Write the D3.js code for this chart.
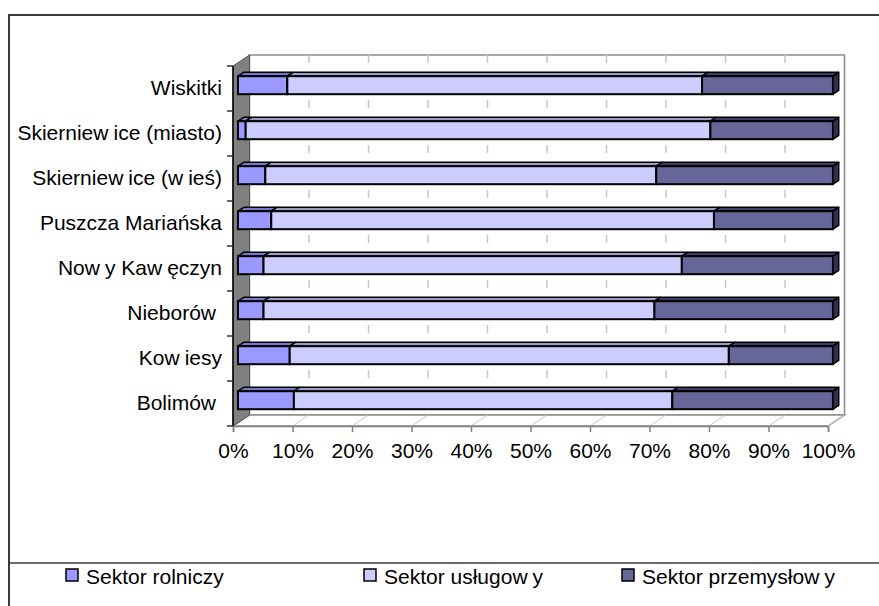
<!DOCTYPE html>
<html><head><meta charset="utf-8">
<script src="https://cdn.jsdelivr.net/npm/d3@7"></script>
<style>html,body{margin:0;padding:0;background:#fff}</style>
</head><body><svg id="c" width="879" height="606"></svg>
<script>
// ---- data ----
const categories = ["Bolimów","Kowiesy","Nieborów","Nowy Kawęczyn","Puszcza Mariańska","Skierniewice (wieś)","Skierniewice (miasto)","Wiskitki"];
const seriesNames = ["Sektor rolniczy","Sektor usługowy","Sektor przemysłowy"];
const rolniczy    = [9.4, 8.7, 4.3, 4.3, 5.6, 4.6, 1.3, 8.3];
const uslugowy    = [63.6, 73.8, 65.7, 70.3, 74.4, 65.7, 78.1, 69.7];
const przemyslowy = [27.0, 17.5, 30.0, 25.4, 20.0, 29.7, 20.6, 22.0];
const tickLabels  = ["0%","10%","20%","30%","40%","50%","60%","70%","80%","90%","100%"];

// ---- styles ----
const fills = ["#9999FF","#CCCCFF","#666699"];
const tops  = ["#7777CC","#9C9CC6","#3D3D6B"];
const sideFill = "#2F2F52";
const FONT = "'Liberation Sans', Arial, sans-serif";
const FS = 21;

const W = 879, H = 606;
const svg = d3.select("#c");

// frame
svg.append("rect").attr("x",9).attr("y",15).attr("width",W).attr("height",H)
  .attr("fill","#fff").attr("stroke","#3a3a3a").attr("stroke-width",2);
svg.append("line").attr("x1",9).attr("x2",W).attr("y1",563).attr("y2",563)
  .attr("stroke","#3a3a3a").attr("stroke-width",1.5);

// geometry
const X0 = 233, X1 = 828, YT = 66, YB = 426, DX = 16.5, DY = -11;
const x = d3.scaleLinear().domain([0,1]).range([X0, X1]);
const y = d3.scaleBand().domain(categories.slice().reverse()).range([YT, YB]);

// back wall
svg.append("rect").attr("x",X0+DX).attr("y",YT+DY).attr("width",X1-X0).attr("height",YB-YT)
  .attr("fill","#fff").attr("stroke","#8c8c8c").attr("stroke-width",1.5);
// floor
svg.append("polygon").attr("points",[[X0,YB],[X0+DX,YB+DY],[X1+DX,YB+DY],[X1,YB]].join(" "))
  .attr("fill","#fff").attr("stroke","#8c8c8c").attr("stroke-width",1.5);

const tickVals = d3.range(tickLabels.length).map(i => i/(tickLabels.length-1));
// back wall gridlines (dashed)
svg.append("g").selectAll("line").data(tickVals.slice(1,-1)).join("line")
  .attr("x1", d => x(d)+DX).attr("x2", d => x(d)+DX)
  .attr("y1", YT+DY).attr("y2", YB+DY)
  .attr("stroke","#c8c8c8").attr("stroke-width",1.5).attr("stroke-dasharray","8,37");
// floor gridlines
svg.append("g").selectAll("line").data(tickVals.slice(1)).join("line")
  .attr("x1", d => x(d)).attr("x2", d => x(d)+DX)
  .attr("y1", YB).attr("y2", YB+DY)
  .attr("stroke","#c8c8c8").attr("stroke-width",1);

// left wall
svg.append("polygon").attr("points",[[X0,YT],[X0+DX,YT+DY],[X0+DX,YB+DY],[X0,YB]].join(" "))
  .attr("fill","#808080").attr("stroke","#555").attr("stroke-width",1);

// ---- bars ----
const rows = categories.map((c,i) => ({cat:c, r:rolniczy[i], u:uslugowy[i], p:przemyslowy[i]}));
const keys = ["r","u","p"];
const stack = d3.stack().keys(keys).offset(d3.stackOffsetExpand)(rows);

const F0 = 0.3, FB = 0.35, BH = 18;
const ox = DX*F0, oy = DY*F0, bx = DX*FB, by = DY*FB;
const barG = svg.append("g");
stack.forEach((layer, si) => {
  layer.forEach(seg => {
    const cat = seg.data.cat;
    const yc = y(cat) + y.bandwidth()/2 + oy;
    const yt = yc - BH/2, yb = yc + BH/2;
    const xa = x(seg[0]) + ox, xb = x(seg[1]) + ox;
    barG.append("polygon")
      .attr("points",[[xa,yt],[xa+bx,yt+by],[xb+bx,yt+by],[xb,yt]].join(" "))
      .attr("fill",tops[si]).attr("stroke","#000").attr("stroke-width",1.5).attr("stroke-linejoin","round");
    barG.append("rect").attr("x",xa).attr("y",yt).attr("width",xb-xa).attr("height",BH)
      .attr("fill",fills[si]).attr("stroke","#000").attr("stroke-width",2);
    if (si === keys.length-1) {
      barG.append("polygon")
        .attr("points",[[xb,yt],[xb+bx,yt+by],[xb+bx,yb+by],[xb,yb]].join(" "))
        .attr("fill",sideFill).attr("stroke","#000").attr("stroke-width",1.5).attr("stroke-linejoin","round");
    }
  });
});

// ---- axes ----
const xAxis = d3.axisBottom(x).tickValues(tickVals).tickSize(6).tickFormat((d,i) => tickLabels[i]);
const gx = svg.append("g").attr("transform",`translate(0,${YB})`).call(xAxis);
gx.select(".domain").attr("stroke","#808080").attr("stroke-width",1.5);
gx.selectAll(".tick line").attr("stroke","#808080").attr("stroke-width",1.5);
gx.selectAll(".tick text").attr("y",32).attr("dy",0)
  .attr("font-family",FONT).attr("font-size",FS).attr("fill","#000");

svg.append("line").attr("x1",X0).attr("x2",X0).attr("y1",YT).attr("y2",YB)
  .attr("stroke","#000").attr("stroke-width",1.5);
const bounds = y.domain().map(d => y(d)).concat([YB]);
svg.append("g").selectAll("line").data(bounds).join("line")
  .attr("x1",X0-6).attr("x2",X0).attr("y1",d=>d).attr("y2",d=>d)
  .attr("stroke","#333").attr("stroke-width",1.5);

// text with the original's wide "w" advance
function wideW(sel, str) {
  const parts = str.split(/(?<=w)(?=\S)/);
  parts.forEach((p,i) => {
    const t = sel.append("tspan").text(p);
    if (i > 0) t.attr("dx", 5);
  });
}
const yl = svg.append("g").attr("font-family",FONT).attr("font-size",FS).attr("fill","#000");
categories.forEach(c => {
  const t = yl.append("text")
    .attr("x", 222 - (c.endsWith("w") ? 6 : 0))
    .attr("y", y(c) + y.bandwidth()/2 - 2)
    .attr("text-anchor","end").attr("dominant-baseline","central");
  wideW(t, c);
});

// ---- legend ----
const legX = [66, 364, 622];
const lg = svg.append("g").attr("font-family",FONT).attr("font-size",FS);
seriesNames.forEach((s,i) => {
  lg.append("rect").attr("x",legX[i]).attr("y",569).attr("width",12).attr("height",12)
    .attr("fill",fills[i]).attr("stroke","#000").attr("stroke-width",1.5);
  const t = lg.append("text").attr("x",legX[i]+20).attr("y",584).attr("fill","#000");
  wideW(t, s);
});
</script>
</body></html>
